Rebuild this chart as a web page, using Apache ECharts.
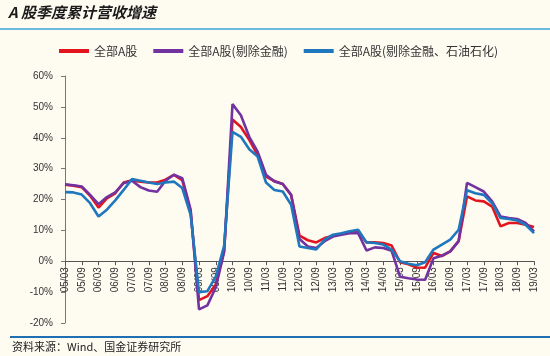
<!DOCTYPE html>
<html><head><meta charset="utf-8">
<script src="https://cdn.jsdelivr.net/npm/echarts@6/dist/echarts.min.js"></script>
<style>html,body{margin:0;padding:0;background:#FEFBF1;}#c{width:550px;height:356px;}</style>
</head><body><div id="c"></div>
<script>
const categories = ["05/03","05/06","05/09","05/12","06/03","06/06","06/09","06/12","07/03","07/06","07/09","07/12","08/03","08/06","08/09","08/12","09/03","09/06","09/09","09/12","10/03","10/06","10/09","10/12","11/03","11/06","11/09","11/12","12/03","12/06","12/09","12/12","13/03","13/06","13/09","13/12","14/03","14/06","14/09","14/12","15/03","15/06","15/09","15/12","16/03","16/06","16/09","16/12","17/03","17/06","17/09","17/12","18/03","18/06","18/09","18/12","19/03"];
const allA = [24.8,24.5,24.0,21.2,17.4,20.4,22.0,25.5,26.2,25.8,25.5,25.5,26.4,28.0,26.3,16.0,-12.6,-11.3,-7.5,3.5,45.9,43.5,39.3,34.4,27.4,26.0,25.0,21.5,8.3,6.8,6.1,7.5,8.3,8.8,9.4,9.7,6.1,6.1,5.9,5.1,-0.3,-1.0,-2.0,-2.1,2.7,1.7,3.2,6.5,21.0,19.7,19.4,17.7,11.3,12.4,12.4,11.8,11.1];
const exFin = [24.9,24.6,24.2,21.5,18.5,20.8,22.3,25.3,26.1,24.0,22.9,22.5,26.1,28.0,26.9,16.7,-15.6,-14.3,-8.5,3.0,50.9,47.3,40.3,35.5,28.0,25.8,25.0,21.5,7.2,4.8,4.3,6.5,8.0,8.6,9.1,9.1,3.5,4.5,4.3,3.4,-5.0,-5.5,-5.9,-6.0,1.0,1.8,3.2,6.5,25.4,24.0,22.6,19.4,14.5,14.0,13.7,12.4,9.7];
const exFinOil = [22.4,22.3,21.6,18.8,14.5,16.7,19.7,23.1,26.6,26.1,25.5,25.0,25.5,25.8,23.7,15.0,-10.0,-9.7,-5.0,5.0,41.9,40.3,36.3,33.9,25.5,23.1,22.6,18.3,4.8,4.3,3.8,7.0,8.6,9.1,9.7,10.2,6.1,5.9,5.4,3.8,0.0,-0.8,-1.3,-0.3,3.8,5.4,7.0,10.2,23.0,22.0,21.5,18.8,14.0,13.7,13.2,11.8,9.1];
const seriesNames = ["全部A股","全部A股(剔除金融)","全部A股(剔除金融、石油石化)"];
const titleText = "A 股季度累计营收增速";
const sourceText = "资料来源：Wind、国金证券研究所";

const colors = ["#E3141E","#7232A0","#1F78BE"];
const chart = echarts.init(document.getElementById('c'), null, {renderer:'canvas'});
const mk = (name, data, i) => ({
  name, type:'line', data, symbol:'none', smooth:false,
  lineStyle:{width:2.6, color:colors[i]}, itemStyle:{color:colors[i]}, z: 2+i
});
const gridTop = 76, gridBottom = 33, H = 356;
const yMin = -20, yMax = 60;
const zeroOffset = -((H - gridTop - gridBottom) * (0 - yMin) / (yMax - yMin));
chart.setOption({
  backgroundColor:'#FEFBF1',
  animation:false,
  textStyle:{fontFamily:'"Liberation Sans", Arial, sans-serif'},
  graphic:[
    {type:'text', left:8, top:5, style:{text:titleText, font:'italic bold 15px "Noto Sans CJK SC"', fill:'#1a1a1a'}},
    {type:'rect', shape:{x:0,y:28,width:550,height:2}, style:{fill:'#6DB8DE'}},
    {type:'rect', shape:{x:10,y:336,width:540,height:2}, style:{fill:'#1F6FB2'}},
    {type:'text', left:12, top:341, style:{text:sourceText, font:'11px "Noto Sans CJK SC"', fill:'#222'}}
  ],
  legend:{
    top:40, left:54, itemGap:16, itemWidth:30, itemHeight:4, icon:'rect',
    textStyle:{fontSize:12, color:'#333', fontFamily:'"Noto Sans CJK SC"'},
    data:seriesNames
  },
  grid:{left:65, right:16, top:gridTop, bottom:gridBottom, containLabel:false},
  xAxis:{
    type:'category', data:categories, boundaryGap:false,
    axisLine:{onZero:false, lineStyle:{color:'#555', width:1}},
    offset: zeroOffset,
    axisTick:{interval:1, length:4, lineStyle:{color:'#555'}},
    axisLabel:{interval:1, rotate:90, fontSize:10, color:'#333', margin:6},
    splitLine:{show:false}
  },
  yAxis:{
    type:'value', min:yMin, max:yMax, interval:10,
    axisLine:{show:true, lineStyle:{color:'#777'}},
    axisTick:{show:true, length:4, lineStyle:{color:'#777'}},
    axisLabel:{formatter:'{value}%', fontSize:10, color:'#333', margin:12},
    splitLine:{show:false}
  },
  series:[mk(seriesNames[0], allA, 0), mk(seriesNames[1], exFin, 1), mk(seriesNames[2], exFinOil, 2)]
});
</script></body></html>
